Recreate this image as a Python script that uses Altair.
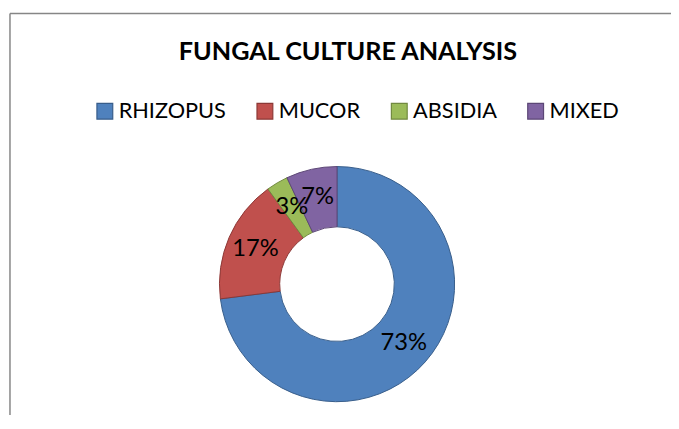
import altair as alt
import pandas as pd

categories = ["RHIZOPUS", "MUCOR", "ABSIDIA", "MIXED"]
values = [73, 17, 3, 7]
labels = ["73%", "17%", "3%", "7%"]
fill_colors = ["#4F81BD", "#C0504D", "#9BBB59", "#8064A2"]
stroke_colors = ["#385D8A", "#8C3836", "#71893F", "#5C4776"]
title_text = "FUNGAL CULTURE ANALYSIS"

df = pd.DataFrame({"cat": categories, "val": values, "label": labels,
                   "idx": list(range(len(categories)))})

FONT = "Lato"
CX, CY = 331, 274
W, H = 669, 404

legend = alt.Legend(title=None, orient="none", direction="horizontal",
                    legendX=85, legendY=88, symbolType="square",
                    symbolSize=256, symbolStrokeWidth=1.2,
                    labelFont=FONT, labelFontSize=22, labelColor="#000000",
                    labelOffset=3, columnPadding=28, labelLimit=0)

base = alt.Chart(df)

arcs = base.mark_arc(innerRadius=58, outerRadius=119, strokeWidth=1,
                     opacity=1).encode(
    theta=alt.Theta("val:Q", stack=True),
    order=alt.Order("idx:Q"),
    color=alt.Color("cat:N", scale=alt.Scale(domain=categories, range=fill_colors),
                    legend=legend),
    stroke=alt.Stroke("cat:N", scale=alt.Scale(domain=categories, range=stroke_colors),
                      legend=legend),
    x=alt.value(CX), y=alt.value(CY),
)

text = base.mark_text(font=FONT, fontSize=24, color="#000000",
                      align="center", baseline="middle").encode(
    theta=alt.Theta("val:Q", stack=True),
    order=alt.Order("idx:Q"),
    radius=alt.value(90),
    text="label:N",
    x=alt.value(CX), y=alt.value(CY),
)

title = alt.Chart(pd.DataFrame({"t": [title_text]})).mark_text(
    font=FONT, fontSize=25.5, fontWeight="bold", color="#000000",
    align="center", baseline="alphabetic").encode(
    text="t:N", x=alt.value(342), y=alt.value(47))

frame_left = alt.Chart(pd.DataFrame({"a": [0]})).mark_rule(
    color="#868686", strokeWidth=1.5).encode(
    x=alt.value(0), y=alt.value(0), y2=alt.value(H + 30))
frame_top = alt.Chart(pd.DataFrame({"a": [0]})).mark_rule(
    color="#868686", strokeWidth=1.5).encode(
    x=alt.value(0), x2=alt.value(W + 10), y=alt.value(0))

chart = alt.layer(frame_left, frame_top, arcs, text, title).properties(
    width=W, height=H,
    autosize=alt.AutoSizeParams(type="none"),
    padding={"left": 2, "top": 3, "right": 0, "bottom": 0},
    background="white",
).configure_view(stroke=None)

chart.save("out.html", embed_options={"renderer": "svg", "actions": False})
